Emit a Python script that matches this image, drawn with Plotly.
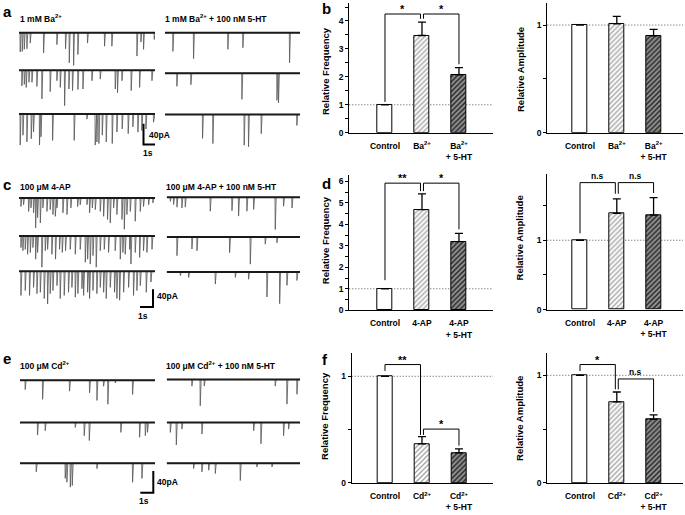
import plotly.graph_objects as go

W, H = 685, 515
FONT = "Liberation Sans"

# ---------------- recorded events (time in s, amplitude in pA) ----------------
BA_T = [[0.08, 0.25, 0.42, 0.64, 0.92, 2.03, 3.14, 3.86, 4.17, 4.53, 4.89, 5.69, 7.11, 7.72, 9.81, 10.14, 10.36, 11.25],
        [0.22, 0.42, 0.58, 0.81, 1.06, 1.47, 1.89, 2.58, 3.14, 3.42, 3.78, 4.14, 4.44, 4.89, 5.31, 6.06, 6.75, 8.0, 8.19, 8.56, 9.33, 10.03, 11.06],
        [0.08, 0.31, 0.64, 1.0, 1.19, 1.69, 1.81, 2.78, 4.58, 5.64, 6.33, 6.47, 6.64, 6.92, 7.25, 7.75, 8.14, 8.58, 9.08, 9.47, 9.89, 10.22, 10.56, 11.19]]
BA_A = [[37, 36, 32, 31, 20, 39, 23, 31, 58, 63, 42, 20, 26, 26, 45, 18, 32, 13],
        [30, 27, 33, 23, 23, 31, 55, 41, 20, 33, 68, 36, 39, 37, 36, 20, 17, 36, 43, 20, 39, 33, 20],
        [60, 41, 54, 48, 35, 60, 44, 51, 51, 10, 60, 54, 57, 41, 54, 57, 35, 29, 38, 25, 35, 32, 29, 16]]
BA5HT_T = [[0.64, 2.36, 5.22, 6.47, 10.36], [0.97, 2.14, 6.39, 9.31, 9.44], [3.11, 3.97, 6.58, 6.94, 8.0, 10.97]]
BA5HT_A = [[36, 50, 32, 29, 58], [25, 22, 50, 52, 57], [46, 56, 59, 62, 37, 21]]

AP_T = [[0.13, 0.33, 0.72, 0.90, 1.10, 1.26, 1.41, 1.62, 1.82, 2.13, 2.38, 2.59, 2.77, 2.90, 3.36, 3.67, 3.97, 4.49, 4.69, 5.21, 5.41, 5.62, 5.85, 6.23, 6.49, 6.79, 7.0, 7.26, 7.51, 7.90, 8.08, 8.28, 8.54, 8.92, 9.31, 9.56, 9.95, 10.28],
        [0.13, 0.28, 0.46, 0.64, 0.85, 1.05, 1.26, 1.41, 1.74, 2.0, 2.18, 2.51, 2.79, 3.10, 3.31, 3.56, 3.92, 4.31, 4.69, 5.08, 5.26, 5.46, 5.67, 5.92, 6.23, 6.54, 6.87, 7.38, 7.77, 7.97, 8.15, 8.49, 8.59, 8.92, 9.26, 9.56, 9.82, 10.21],
        [0.13, 0.46, 0.79, 1.10, 1.36, 1.62, 1.92, 2.18, 2.38, 2.59, 2.90, 3.15, 3.46, 3.79, 4.05, 4.31, 4.51, 4.82, 4.95, 5.26, 5.41, 5.67, 5.97, 6.23, 6.49, 6.69, 7.0, 7.33, 7.51, 7.72, 8.03, 8.41, 8.79, 9.05, 9.31, 9.77, 10.13]]
AP_A = [[19, 15, 30, 22, 33, 67, 44, 56, 22, 30, 26, 37, 41, 22, 33, 37, 22, 19, 15, 15, 33, 22, 26, 30, 41, 48, 56, 22, 37, 48, 70, 37, 30, 52, 30, 19, 15, 11],
        [26, 33, 30, 41, 37, 26, 52, 37, 70, 33, 30, 41, 52, 30, 37, 33, 30, 41, 30, 59, 52, 63, 44, 70, 33, 30, 37, 33, 52, 37, 41, 30, 63, 37, 48, 33, 37, 30],
        [54, 43, 54, 36, 50, 47, 61, 73, 50, 43, 32, 61, 54, 47, 36, 58, 50, 39, 54, 47, 61, 43, 50, 36, 47, 61, 36, 47, 61, 65, 47, 36, 54, 43, 32, 47, 24]]
AP5HT_T = [[0.26, 0.51, 0.77, 1.15, 1.41, 3.33, 5.0, 5.51, 6.15, 6.67, 8.33, 8.97, 9.62],
           [0.77, 1.92, 2.31, 4.82, 6.41, 7.56, 8.46],
           [1.03, 1.67, 3.72, 5.26, 6.28, 7.69, 8.67, 9.23, 10.0]]
AP5HT_A = [[9, 16, 22, 24, 22, 31, 30, 42, 31, 27, 72, 20, 24],
           [42, 27, 31, 35, 61, 16, 13],
           [8, 12, 27, 12, 16, 56, 71, 30, 19]]

CD_T = [[0.38, 1.72, 3.79, 5.33, 5.90, 6.41, 6.74, 7.31, 8.64],
        [1.33, 1.92, 4.23, 4.92, 5.31, 7.74, 9.18, 9.62, 9.79],
        [1.23, 3.46, 3.59, 3.85, 4.0, 5.90, 8.64, 9.36]]
CD_A = [[17, 35, 20, 23, 37, 11, 44, 5, 26],
        [23, 15, 9, 24, 33, 18, 27, 24, 18],
        [16, 28, 35, 44, 41, 10, 35, 28]]
CD5HT_T = [[1.92, 2.56, 2.87, 8.33, 9.23, 10.0],
           [0.26, 0.72, 1.15, 2.69, 6.67, 7.23, 8.97, 9.36],
           [2.05, 2.69, 3.21, 3.72, 5.64, 6.92, 8.08]]
CD5HT_A = [[12, 48, 12, 12, 45, 27],
           [18, 41, 12, 21, 15, 39, 24, 12],
           [10, 16, 13, 19, 32, 7, 7]]

# ---------------- bar data ----------------
CATS_BA = ["Control", "Ba<sup>2+</sup>", "Ba<sup>2+</sup><br>+ 5-HT"]
CATS_AP = ["Control", "4-AP", "4-AP<br>+ 5-HT"]
CATS_CD = ["Control", "Cd<sup>2+</sup>", "Cd<sup>2+</sup><br>+ 5-HT"]

FREQ_BA = [1.0, 3.48, 2.07]
FREQ_BA_ERR = [0, 0.48, 0.26]
AMP_BA = [1.0, 1.01, 0.90]
AMP_BA_ERR = [0, 0.07, 0.06]
FREQ_AP = [1.0, 4.69, 3.20]
FREQ_AP_ERR = [0, 0.73, 0.38]
AMP_AP = [1.0, 1.386, 1.363]
AMP_AP_ERR = [0, 0.21, 0.25]
FREQ_CD = [1.0, 0.366, 0.282]
FREQ_CD_ERR = [0, 0.068, 0.038]
AMP_CD = [1.0, 0.753, 0.590]
AMP_CD_ERR = [0, 0.092, 0.043]

# significance brackets: pairs, bracket heights, leg ends, labels
BRK_PAIRS = [(0, 1), (1, 2)]
BRK_FREQ_BA_TOP = [4.25, 4.25]
BRK_FREQ_BA_LEGS = [(1.1, 4.08), (4.08, 2.45)]
BRK_FREQ_BA_TXT = ["*", "*"]
BRK_FREQ_AP_TOP = [5.92, 5.92]
BRK_FREQ_AP_LEGS = [(1.4, 5.55), (5.55, 3.77)]
BRK_FREQ_AP_TXT = ["**", "*"]
BRK_AMP_AP_TOP = [1.83, 1.83]
BRK_AMP_AP_LEGS = [(1.1, 1.67), (1.67, 1.68)]
BRK_AMP_AP_TXT = ["n.s", "n.s"]
BRK_FREQ_CD_TOP = [1.11, 0.505]
BRK_FREQ_CD_LEGS = [(1.05, 0.45), (0.45, 0.35)]
BRK_FREQ_CD_TXT = ["**", "*"]
BRK_AMP_CD_TOP = [1.10, 0.966]
BRK_AMP_CD_LEGS = [(1.04, 0.87), (0.87, 0.66)]
BRK_AMP_CD_TXT = ["*", "n.s"]

fig = go.Figure()
axes = {}
annotations = []
shapes = []


def xd(x0, x1):
    return [x0 / W, x1 / W]


def yd(y0, y1):
    return [1 - y1 / H, 1 - y0 / H]


def axn(k, c):
    return f"{c}axis" if k == 1 else f"{c}axis{k}"


def rf(k, c):
    return c if k == 1 else f"{c}{k}"


def ptext(text, x, y, size, xanchor="left", angle=0, yanchor="middle"):
    annotations.append(dict(text=text, x=x / W, y=1 - y / H, xref="paper", yref="paper",
                            xanchor=xanchor, yanchor=yanchor, showarrow=False, textangle=angle,
                            font=dict(family=FONT, size=size, color="black", weight="bold")))


def trace_panel(k, times, amps, x0, x1, y0, y1, pxps, pxpa, base_px, bar=None):
    T = (x1 - x0) / pxps
    band = (y1 - y0) / pxpa
    axes[axn(k, "x")] = dict(domain=xd(x0, x1), range=[0, T], visible=False, anchor=rf(k, "y"), fixedrange=True)
    axes[axn(k, "y")] = dict(domain=yd(y0, y1), range=[band, 0], visible=False, anchor=rf(k, "x"), fixedrange=True)
    for rt, ra, yb in zip(times, amps, base_px):
        off = (yb - y0) / pxpa
        xs, ys = [0.0], [off]
        for t, a in sorted(zip(rt, ra)):
            xs += [t, t + 0.02, t + 0.09]
            ys += [off, off + a, off]
        xs.append(T)
        ys.append(off)
        fig.add_trace(go.Scatter(x=xs, y=ys, mode="lines", line=dict(color="#555", width=0.8),
                                 xaxis=rf(k, "x"), yaxis=rf(k, "y"), hoverinfo="skip", showlegend=False))
        fig.add_trace(go.Scatter(x=[0, T], y=[off, off], mode="lines", line=dict(color="#1a1a1a", width=2),
                                 xaxis=rf(k, "x"), yaxis=rf(k, "y"), hoverinfo="skip", showlegend=False))
    if bar:
        cx, cy, kind = bar
        tc = (cx - x0) / pxps
        pc = (cy - y0) / pxpa
        if kind == "L":
            xs, ys = [tc, tc, tc + 1], [pc - 40, pc, pc]
        else:
            xs, ys = [tc - 1, tc, tc], [pc, pc, pc - 40]
        fig.add_trace(go.Scatter(x=xs, y=ys, mode="lines", line=dict(color="black", width=2),
                                 xaxis=rf(k, "x"), yaxis=rf(k, "y"), hoverinfo="skip", showlegend=False))


def bar_panel(k, cats, vals, errs, x0, x1, y0, y1, xr, ymax, major, minor,
              btop=None, blegs=None, btxt=None):
    xa, ya = rf(k, "x"), rf(k, "y")
    axes[axn(k, "x")] = dict(domain=xd(x0, x1), range=xr, anchor=ya, showline=True, linecolor="black",
                             linewidth=1, ticks="outside", ticklen=5, tickcolor="rgba(0,0,0,0)",
                             tickvals=[0, 1, 2], ticktext=cats, showgrid=False, zeroline=False,
                             tickfont=dict(family=FONT, size=8.5, color="black", weight="bold"), fixedrange=True)
    axes[axn(k, "y")] = dict(domain=yd(y0, y1), range=[0, ymax], anchor=xa, showline=True, linecolor="black",
                             linewidth=1, ticks="outside", ticklen=3, tickwidth=1, tickcolor="black",
                             tickvals=major, ticktext=[str(v) for v in major],
                             minor=dict(tickvals=minor, ticks="outside", ticklen=3, tickcolor="black", tickwidth=1),
                             showgrid=False, zeroline=False,
                             tickfont=dict(family=FONT, size=8.5, color="black", weight="bold"), fixedrange=True)
    shapes.append(dict(type="line", xref=f"{xa} domain", yref=ya, x0=0, x1=1, y0=1, y1=1, layer="below",
                       line=dict(color="#555", width=1, dash="1px,2px")))
    fig.add_trace(go.Bar(
        x=[0, 1, 2], y=vals, width=0.4, xaxis=xa, yaxis=ya, showlegend=False, hoverinfo="skip",
        marker=dict(color=["white", "white", "#2a2a2a"], line=dict(color="black", width=1),
                    pattern=dict(shape=["", "/", "/"], fgcolor=["black", "#222", "black"],
                                 bgcolor=["white", "white", "#333333"], size=3.5, solidity=[0.2, 0.38, 0.55])),
        error_y=dict(type="data", symmetric=False, array=errs, arrayminus=[0, 0, 0],
                     color="black", thickness=1.3, width=4)))
    if btop:
        for (i, j), top, (la, lb), txt in zip(BRK_PAIRS, btop, blegs, btxt):
            xi = i + (0.04 if i == 1 else 0)
            xj = j - (0.04 if j == 1 else 0)
            fig.add_trace(go.Scatter(x=[xi, xi, xj, xj], y=[la, top, top, lb], mode="lines",
                                     line=dict(color="black", width=1), xaxis=xa, yaxis=ya,
                                     hoverinfo="skip", showlegend=False))
            star = txt.startswith("*")
            annotations.append(dict(text=txt, x=(xi + xj) / 2, y=top, xref=xa, yref=ya, showarrow=False,
                                    yanchor="bottom", yshift=-3 if star else 0,
                                    font=dict(family=FONT, size=11 if star else 8.5, color="black", weight="bold")))


# ---- trace panels ----
trace_panel(1, BA_T, BA_A, 19, 155, 25, 160, 12, 0.525, [33, 71, 115], bar=(143.5, 146, "L"))
trace_panel(2, BA5HT_T, BA5HT_A, 165, 300, 25, 160, 12, 0.525, [33, 74, 115.6])
trace_panel(3, AP_T, AP_A, 19, 155, 192, 330, 13, 0.45, [200, 238.3, 274], bar=(153, 310, "J"))
trace_panel(4, AP5HT_T, AP5HT_A, 166.7, 300, 192, 330, 13, 0.45, [199.3, 239.3, 274.7])
trace_panel(5, CD_T, CD_A, 20, 155, 376, 505, 13, 0.55, [384, 426.7, 467.7], bar=(153.3, 497.7, "J"))
trace_panel(6, CD5HT_T, CD5HT_A, 166.7, 300, 376, 505, 13, 0.55, [383.3, 426.7, 467.7])

# ---- bar panels ----
bar_panel(7, CATS_BA, FREQ_BA, FREQ_BA_ERR, 349.3, 493, 3, 134, [-0.965, 2.92], 4.645,
          [0, 1, 2, 3, 4], [0.5, 1.5, 2.5, 3.5, 4.5], BRK_FREQ_BA_TOP, BRK_FREQ_BA_LEGS, BRK_FREQ_BA_TXT)
bar_panel(8, CATS_BA, AMP_BA, AMP_BA_ERR, 547.3, 683, 3, 134, [-0.89, 2.80], 1.205, [0, 1], [0.5])
bar_panel(9, CATS_AP, FREQ_AP, FREQ_AP_ERR, 349.3, 493, 176.7, 313.3, [-0.965, 2.92], 6.3,
          [0, 1, 2, 3, 4, 5, 6], [0.5, 1.5, 2.5, 3.5, 4.5, 5.5], BRK_FREQ_AP_TOP, BRK_FREQ_AP_LEGS, BRK_FREQ_AP_TXT)
bar_panel(10, CATS_AP, AMP_AP, AMP_AP_ERR, 547.3, 683, 176, 312.7, [-0.89, 2.80], 1.95, [0, 1], [0.5, 1.5],
          BRK_AMP_AP_TOP, BRK_AMP_AP_LEGS, BRK_AMP_AP_TXT)
bar_panel(11, CATS_CD, FREQ_CD, FREQ_CD_ERR, 351.7, 493, 356.7, 487.7, [-0.9, 2.92], 1.216, [0, 1], [0.5],
          BRK_FREQ_CD_TOP, BRK_FREQ_CD_LEGS, BRK_FREQ_CD_TXT)
bar_panel(12, CATS_CD, AMP_CD, AMP_CD_ERR, 547.3, 683, 356.7, 487.7, [-0.89, 2.80], 1.205, [0, 1], [0.5],
          BRK_AMP_CD_TOP, BRK_AMP_CD_LEGS, BRK_AMP_CD_TXT)

# ---- texts ----
for letter, x, y in [("a", 7, 12), ("c", 7, 186), ("e", 7, 362), ("b", 326, 9), ("d", 326, 185), ("f", 325, 363)]:
    ptext(letter, x, y, 15, xanchor="center")

ptext("1 mM Ba<sup>2+</sup>", 18, 19, 8.5)
ptext("1 mM Ba<sup>2+</sup> + 100 nM 5-HT", 163, 19, 8.5)
ptext("100 μM 4-AP", 18, 189, 8.5)
ptext("100 μM 4-AP + 100 nM 5-HT", 164, 189, 8.5)
ptext("100 μM Cd<sup>2+</sup>", 18, 369.5, 8.5)
ptext("100 μM Cd<sup>2+</sup> + 100 nM 5-HT", 164, 369.5, 8.5)

ptext("40pA", 146.5, 136, 8.5)
ptext("1s", 147.5, 155, 8.5, xanchor="center")
ptext("40pA", 155, 299, 8.5)
ptext("1s", 143, 319, 8.5, xanchor="center")
ptext("40pA", 155, 486.7, 8.5)
ptext("1s", 144, 505.7, 8.5, xanchor="center")

for txt, x, y in [("Relative Frequency", 325, 71.7), ("Relative Amplitude", 520, 70.7),
                  ("Relative Frequency", 325, 242.5), ("Relative Amplitude", 519, 240.8),
                  ("Relative Frequency", 325, 420), ("Relative Amplitude", 520, 423)]:
    ptext(txt, x, y, 9.5, xanchor="center", angle=-90)

fig.update_layout(width=W, height=H, autosize=False, margin=dict(l=0, r=0, t=0, b=0, pad=0),
                  paper_bgcolor="white", plot_bgcolor="white", showlegend=False, hovermode=False,
                  bargap=0, annotations=annotations, shapes=shapes,
                  font=dict(family=FONT, size=8.5, color="black"), **axes)

fig.write_html("out.html", config=dict(displayModeBar=False),
               post_script="document.body.style.margin='0';document.body.style.overflow='hidden';")
